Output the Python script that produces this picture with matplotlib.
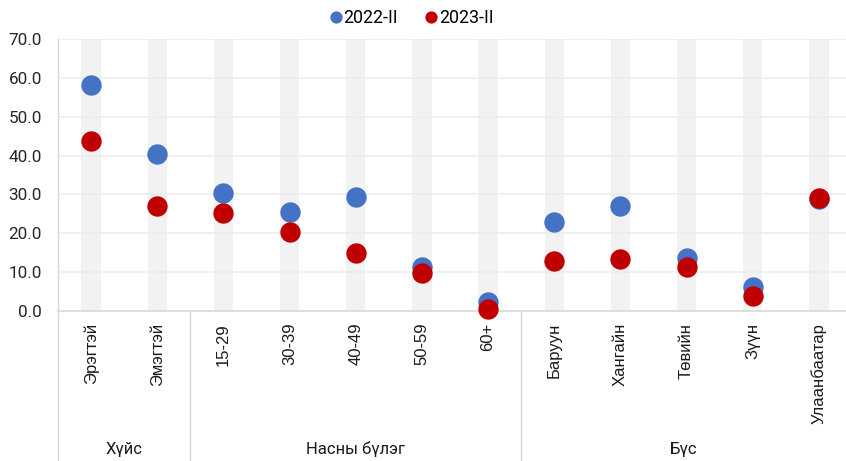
import matplotlib
matplotlib.use("Agg")
import matplotlib.pyplot as plt
from matplotlib.lines import Line2D
import numpy as np

categories = ["Эрэгтэй", "Эмэгтэй", "15-29", "30-39", "40-49", "50-59", "60+",
              "Баруун", "Хангайн", "Төвийн", "Зүүн", "Улаанбаатар"]
values_2022 = [58.1, 40.4, 30.3, 25.5, 29.3, 11.2, 2.2, 22.8, 27.1, 13.6, 6.1, 28.9]
values_2023 = [43.7, 27.1, 25.1, 20.3, 14.9, 9.7, 0.4, 12.8, 13.4, 11.4, 3.9, 29.1]
groups = ["Хүйс", "Насны бүлэг", "Бүс"]
group_sizes = [2, 5, 5]
yticks = [0, 10, 20, 30, 40, 50, 60, 70]

blue = "#4472C4"
red = "#C00000"

W, H = 846, 461
fig = plt.figure(figsize=(W / 100, H / 100), dpi=100)
left_px, right_px, top_px, bot_px = 58, 852, 39, 311
ax = fig.add_axes([left_px / W, 1 - bot_px / H, (right_px - left_px) / W, (bot_px - top_px) / H])

x = np.arange(len(categories))
ax.set_xlim(-0.5, len(categories) - 0.5)
ax.set_ylim(0, 70)

# background grey bands
ax.bar(x, [70] * len(x), width=0.29, color="#F2F2F2", zorder=0)
# gridlines
for yt in yticks[1:]:
    ax.axhline(yt, color="#EDEDED", lw=1.2, zorder=0.5)

ax.scatter(x, values_2022, s=215, color=blue, zorder=3, linewidths=0, label="2022-II")
ax.scatter(x, values_2023, s=215, color=red, zorder=4, linewidths=0, label="2023-II", clip_on=False)

for sp in ["top", "right"]:
    ax.spines[sp].set_visible(False)
ax.spines["left"].set_color("#D9D9D9")
ax.spines["bottom"].set_color("#D9D9D9")
ax.spines["left"].set_linewidth(1)
ax.spines["bottom"].set_linewidth(1.2)

ax.set_yticks(yticks)
ax.set_yticklabels([f"{v:.1f}" for v in yticks], fontsize=12.3, family="Roboto", color="#262626")
ax.tick_params(axis="y", length=0, pad=11.5)
ax.set_xticks(x)
ax.set_xticklabels(categories, rotation=90, fontsize=12, family="Liberation Sans", color="#1a1a1a",
                   va="top", ha="center")
ax.tick_params(axis="x", length=0, pad=8.5)

# group separators and labels
bounds = np.cumsum([0] + group_sizes)
for b in bounds[:-1]:
    xp = left_px + (b) * (right_px - left_px) / len(categories)
    fig.add_artist(Line2D([xp / W, xp / W], [0, 1 - bot_px / H], color="#D9D9D9", lw=1))
for i, g in enumerate(groups):
    x0 = left_px + bounds[i] * (right_px - left_px) / len(categories)
    x1 = left_px + bounds[i + 1] * (right_px - left_px) / len(categories)
    if i == len(groups) - 1:
        x1 = W
    fig.text((x0 + x1) / 2 / W, 1 - 449 / H, g, ha="center", va="center", fontsize=12,
             family="Roboto", color="#1a1a1a")

# legend
handles = [Line2D([], [], marker="o", ls="", color=blue, markersize=7.8, label="2022-II"),
           Line2D([], [], marker="o", ls="", color=red, markersize=7.8, label="2023-II")]
fig.legend(handles=handles, loc="center", bbox_to_anchor=(411 / W, 1 - 18 / H), ncol=2, frameon=False,
           prop={"family": "Roboto", "size": 12.8}, handletextpad=0.05, columnspacing=1.45,
           handlelength=0.8, borderaxespad=0)

fig.savefig("out.png", dpi=100)
